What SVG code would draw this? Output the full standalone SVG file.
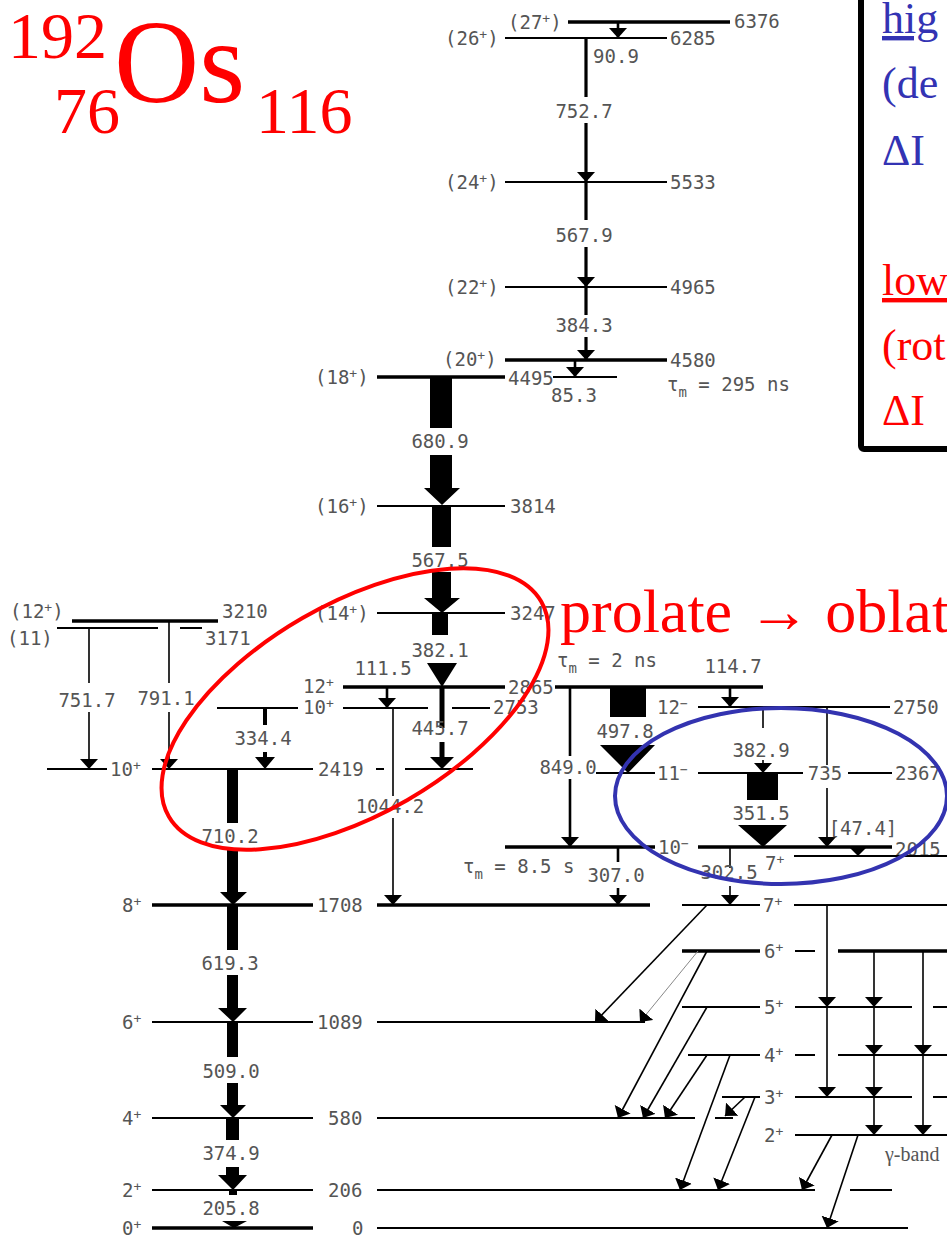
<svg xmlns="http://www.w3.org/2000/svg" width="947" height="1238" viewBox="0 0 947 1238">
<style>
.l{stroke:#000;stroke-width:2;fill:none}
.k{stroke:#000;stroke-width:3.5;fill:none}
.t{font-family:"DejaVu Sans Mono","Liberation Mono",monospace;font-size:19px;fill:#555}
.s{font-size:13px;baseline-shift:45%}
.m{text-anchor:middle}
.c{stroke:#000;stroke-width:1.6;fill:none}
.c2{stroke:#000;stroke-width:2.6;fill:none}
.c3{stroke:#000;stroke-width:3.2;fill:none}
.f{fill:#000}
.big{font-family:"Liberation Serif","Times New Roman",serif;fill:#f00}
.box{font-family:"Liberation Serif","Times New Roman",serif;font-size:44px}
</style>
<defs>
<marker id="a" markerUnits="userSpaceOnUse" markerWidth="10" markerHeight="18" viewBox="0 0 10 18" refX="10" refY="9" orient="auto"><path d="M0,0 L10,9 L0,18 z" fill="#000"/></marker>
</defs>
<rect width="947" height="1238" fill="#fff"/>

<!-- title -->
<g id="title" class="big">
<text x="8" y="58" font-size="66">192</text>
<text x="54" y="133" font-size="66">76</text>
<text x="114" y="102" font-size="118">Os</text>
<text x="256" y="133" font-size="66">116</text>
</g>

<!-- legend box -->
<g id="legend">
<rect x="861" y="-10" width="110" height="459" rx="3" fill="#fff" stroke="#000" stroke-width="6"/>
<g class="box" fill="#3333b3">
<text x="882" y="33" text-decoration="underline">hig</text>
<text x="882" y="98">(de</text>
<text x="882" y="165">ΔI</text>
</g>
<g class="box" fill="#f00">
<text x="882" y="295" text-decoration="underline">low</text>
<text x="882" y="360">(rot</text>
<text x="882" y="425">ΔI</text>
</g>
</g>

<!-- levels -->
<g id="L6376"><path class="k" d="M568,22H730"/><text class="t" x="508" y="29">(27<tspan class="s">+</tspan>)</text><text class="t" x="734" y="28">6376</text></g>
<g id="L6285"><path class="l" d="M505,38H667"/><text class="t" x="445" y="45">(26<tspan class="s">+</tspan>)</text><text class="t" x="670" y="45">6285</text></g>
<g id="L5533"><path class="l" d="M505,182H667"/><text class="t" x="445" y="189">(24<tspan class="s">+</tspan>)</text><text class="t" x="670" y="189">5533</text></g>
<g id="L4965"><path class="l" d="M505,287H667"/><text class="t" x="445" y="294">(22<tspan class="s">+</tspan>)</text><text class="t" x="670" y="294">4965</text></g>
<g id="L4580"><path class="k" d="M505,360H667"/><text class="t" x="443" y="366">(20<tspan class="s">+</tspan>)</text><text class="t" x="670" y="367">4580</text>
<text class="t" x="667" y="391">τ<tspan dy="6" font-size="14">m</tspan><tspan dy="-6"> = 295 ns</tspan></text></g>
<g id="L4495"><path class="k" d="M377,377H505"/><path class="l" d="M553,377H617"/><text class="t" x="315" y="384">(18<tspan class="s">+</tspan>)</text><text class="t" x="508" y="385">4495</text></g>
<g id="L3814"><path class="l" d="M377,506H505"/><text class="t" x="315" y="513">(16<tspan class="s">+</tspan>)</text><text class="t" x="510" y="513">3814</text></g>
<g id="L3247"><path class="l" d="M377,613H505"/><text class="t" x="315" y="620">(14<tspan class="s">+</tspan>)</text><text class="t" x="510" y="620">3247</text></g>
<g id="L2865"><path class="k" d="M343,687H505M555,687H763"/><text class="t" x="303" y="693">12<tspan class="s">+</tspan></text><text class="t" x="508" y="694">2865</text>
<text class="t" x="557" y="667">τ<tspan dy="6" font-size="14">m</tspan><tspan dy="-6"> = 2 ns</tspan></text></g>
<g id="L2753"><path class="l" d="M217,708H298M343,708H428M452,708H490"/><text class="t" x="303" y="714">10<tspan class="s">+</tspan></text><text class="t" x="493" y="714">2753</text></g>
<g id="L3210"><path class="k" d="M72,621H218"/><text class="t" x="10" y="618">(12<tspan class="s">+</tspan>)</text><text class="t" x="222" y="618">3210</text></g>
<g id="L3171"><path class="l" d="M57,628H158M180,628H202"/><text class="t" x="7" y="645">(11)</text><text class="t" x="205" y="645">3171</text></g>
<g id="L2419"><path class="l" d="M47,769H107M152,769H313M376,769H384M405,769H473"/><text class="t" x="110" y="776">10<tspan class="s">+</tspan></text><text class="t" x="318" y="776">2419</text></g>
<g id="L1708"><path class="k" d="M152,905H313M377,905H650"/><text class="t" x="122" y="912">8<tspan class="s">+</tspan></text><text class="t" x="317" y="912">1708</text></g>
<g id="L1089"><path class="l" d="M152,1022H313M377,1022H645"/><text class="t" x="122" y="1029">6<tspan class="s">+</tspan></text><text class="t" x="317" y="1029">1089</text></g>
<g id="L580"><path class="l" d="M152,1118H313M377,1118H695M715,1118H733"/><text class="t" x="122" y="1125">4<tspan class="s">+</tspan></text><text class="t" x="328" y="1125">580</text></g>
<g id="L206"><path class="l" d="M152,1190H313M377,1190H815M850,1190H892"/><text class="t" x="122" y="1197">2<tspan class="s">+</tspan></text><text class="t" x="328" y="1197">206</text></g>
<g id="L0"><path class="k" d="M152,1228H313"/><path class="l" d="M377,1228H908"/><text class="t" x="122" y="1235">0<tspan class="s">+</tspan></text><text class="t" x="352" y="1235">0</text></g>
<g id="L2750"><path class="l" d="M698,707H890"/><text class="t" x="657" y="714">12<tspan class="s">−</tspan></text><text class="t" x="893" y="714">2750</text></g>
<g id="L2367"><path class="l" d="M596,773H655M698,773H803M848,773H892"/><text class="t" x="657" y="780">11<tspan class="s">−</tspan></text><text class="t" x="895" y="780">2367</text></g>
<g id="L2015"><path class="k" d="M505,847H655M698,847H892"/><text class="t" x="658" y="854">10<tspan class="s">−</tspan></text><text class="t" x="895" y="856">2015</text>
<text class="t" x="463" y="873">τ<tspan dy="6" font-size="14">m</tspan><tspan dy="-6"> = 8.5 s</tspan></text></g>
<g id="L7a"><path class="l" d="M794,856H947"/><text class="t" x="765" y="870">7<tspan class="s">+</tspan></text></g>
<g id="L7b"><path class="l" d="M682,905H760M794,905H947"/><text class="t" x="763" y="912">7<tspan class="s">+</tspan></text></g>
<g id="L6g"><path class="k" d="M682,951H760M838,951H947"/><path class="l" d="M795,951H815"/><text class="t" x="764" y="958">6<tspan class="s">+</tspan></text></g>
<g id="L5g"><path class="l" d="M682,1007H760M795,1007H912M933,1007H947"/><text class="t" x="764" y="1014">5<tspan class="s">+</tspan></text></g>
<g id="L4g"><path class="l" d="M688,1055H760M795,1055H815M838,1055H947"/><text class="t" x="764" y="1062">4<tspan class="s">+</tspan></text></g>
<g id="L3g"><path class="l" d="M722,1097H760M795,1097H912M933,1097H947"/><text class="t" x="764" y="1104">3<tspan class="s">+</tspan></text></g>
<g id="L2g"><path class="l" d="M795,1135H947"/><text class="t" x="764" y="1142">2<tspan class="s">+</tspan></text>
<text x="885" y="1161" font-family="Liberation Serif,serif" font-size="20" fill="#555">γ-band</text></g>

<!-- connectors -->
<g id="connectors">
<path class="c2" d="M618,22V38" marker-end="url(#a)"/>
<path class="c3" d="M586,38V97M586,123V182" marker-end="url(#a)"/>
<path class="c3" d="M586,182V220M586,247V287" marker-end="url(#a)"/>
<path class="c3" d="M586,287V315M586,337V360" marker-end="url(#a)"/>
<path class="c2" d="M575,360V377" marker-end="url(#a)"/>
<path class="f" d="M430,377H452V428H430Z M430,455H452V488H460L442,505L424,488H430Z"/>
<path class="f" d="M432,506H451V547H432Z M432,572H451V598H460L442,613L424,598H432Z"/>
<path class="f" d="M432,613H448V635H432Z M427,663H457L442,687Z"/>
<path class="c2" d="M387,687V708" marker-end="url(#a)"/>
<path class="c" d="M393,708V796M393,818V905" marker-end="url(#a)"/>
<path class="f" d="M439.5,687H444.5V728H439.5Z M439.5,742H444.5V757H454L442,769L430,757H439.5Z"/>
<path class="c" d="M89,628V683M89,712V769" marker-end="url(#a)"/>
<path class="c" d="M169,621V683M169,712V769" marker-end="url(#a)"/>
<path class="f" d="M263,708H267V725H263Z M263,752H267V757H275L265,769L255,757H263Z"/>
<path class="f" d="M227,769H238V823H227Z M227,848H238V892H247L233,905L220,892H227Z"/>
<path class="f" d="M227,905H238V950H227Z M227,975H238V1008H247L233,1022L218,1008H227Z"/>
<path class="f" d="M227,1022H238V1057H227Z M227,1083H238V1105H246L233,1118L220,1105H227Z"/>
<path class="f" d="M226,1118H239V1140H226Z M226,1167H239V1175H247L233,1190L218,1175H226Z"/>
<path class="f" d="M229,1190H237V1195H229Z M222,1221H247L234,1228Z"/>
<path class="c2" d="M570,687V756M570,779V847" marker-end="url(#a)"/>
<path class="f" d="M610,687H646V717H610Z M600,745H655L628,773Z"/>
<path class="c2" d="M730,687V707" marker-end="url(#a)"/>
<path class="c" d="M763,707V728M763,760V773" marker-end="url(#a)"/>
<path class="c" d="M827,707V765M827,788V847" marker-end="url(#a)"/>
<path class="f" d="M747,773H778V800H747Z M738,825H787L763,847Z"/>
<path class="f" d="M850,848H866L858,856Z"/>
<path class="c2" d="M618,847V862M618,888V905" marker-end="url(#a)"/>
<path class="c" d="M730,847V868M730,886V905" marker-end="url(#a)"/>
<path class="c" d="M827,905V1007" marker-end="url(#a)"/>
<path class="c" d="M827,1007V1097" marker-end="url(#a)"/>
<path class="c" d="M874,951V1007" marker-end="url(#a)"/>
<path class="c" d="M874,1007V1055" marker-end="url(#a)"/>
<path class="c" d="M874,1055V1097" marker-end="url(#a)"/>
<path class="c" d="M874,1097V1135" marker-end="url(#a)"/>
<path class="c" d="M923,951V1055" marker-end="url(#a)"/>
<path class="c" d="M923,1055V1135" marker-end="url(#a)"/>
<path class="c" d="M707,905L595,1022" marker-end="url(#a)"/>
<path d="M698,951L640,1022" stroke="#888" stroke-width="1" fill="none" marker-end="url(#a)"/>
<path class="c" d="M707,951L618,1118" marker-end="url(#a)"/>
<path class="c" d="M707,1007L643,1118" marker-end="url(#a)"/>
<path class="c" d="M707,1055L665,1118" marker-end="url(#a)"/>
<path class="c" d="M730,1055L680,1190" marker-end="url(#a)"/>
<path class="c" d="M745,1097L725,1116" marker-end="url(#a)"/>
<path class="c" d="M755,1097L718,1190" marker-end="url(#a)"/>
<path class="c" d="M832,1135L802,1190" marker-end="url(#a)"/>
<path class="c" d="M858,1135L827,1228" marker-end="url(#a)"/>
<g class="t m">
<text x="616" y="63">90.9</text>
<text x="584" y="118">752.7</text>
<text x="584" y="242">567.9</text>
<text x="584" y="332">384.3</text>
<text x="574" y="402">85.3</text>
<text x="440" y="448">680.9</text>
<text x="440" y="567">567.5</text>
<text x="440" y="657">382.1</text>
<text x="383" y="675">111.5</text>
<text x="440" y="735">445.7</text>
<text x="390" y="813">1044.2</text>
<text x="87" y="707">751.7</text>
<text x="166" y="705">791.1</text>
<text x="263" y="745">334.4</text>
<text x="230" y="843">710.2</text>
<text x="230" y="970">619.3</text>
<text x="231" y="1078">509.0</text>
<text x="231" y="1160">374.9</text>
<text x="231" y="1215">205.8</text>
<text x="568" y="774">849.0</text>
<text x="625" y="738">497.8</text>
<text x="733" y="673">114.7</text>
<text x="761" y="757">382.9</text>
<text x="825" y="780">735</text>
<text x="761" y="820">351.5</text>
<text x="616" y="882">307.0</text>
<text x="729" y="879">302.5</text>
<text x="863" y="835">[47.4]</text>
</g>
</g>

<!-- annotations -->
<ellipse cx="355" cy="709" rx="215" ry="105" transform="rotate(-30 355 709)" fill="none" stroke="#f00" stroke-width="4"/>
<ellipse cx="781" cy="796" rx="166" ry="88" fill="none" stroke="#3333b0" stroke-width="4"/>
<text class="big" x="560" y="632" font-size="62">prolate → oblat</text>
</svg>
